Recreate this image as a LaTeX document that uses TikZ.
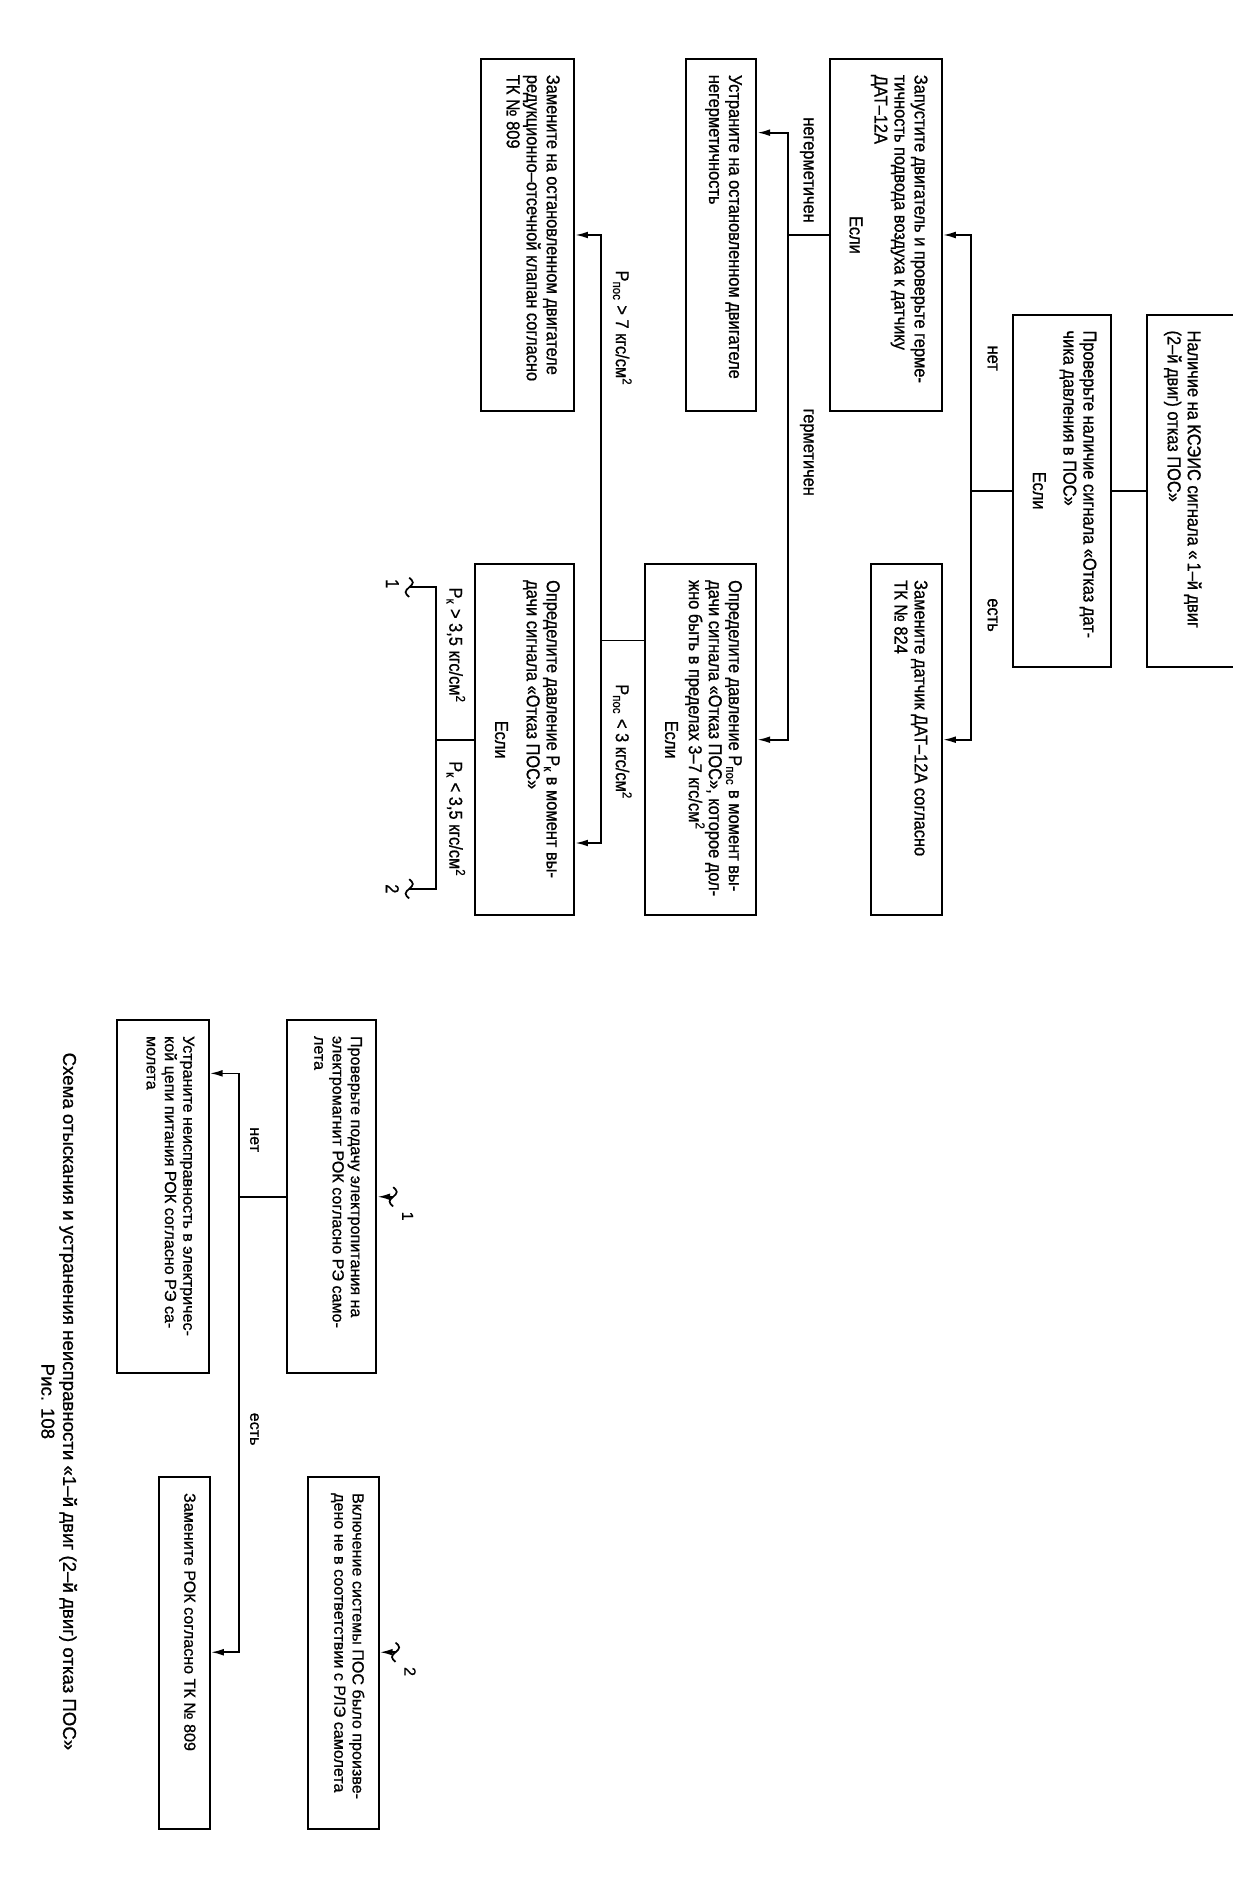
\documentclass[tikz,border=0pt]{standalone}
\usepackage{fontspec}
\setmainfont{Liberation Sans}[FakeBold=0.8]
\newfontfamily\uzkij{Liberation Sans}[FakeStretch=0.88,FakeBold=0.8]
\usetikzlibrary{arrows.meta,calc}
\newlength\ed
\setlength\ed{0.025cm}
\newcommand\perv{\uzkij\fontsize{11}{11.8}\selectfont}
\newcommand\vtor{\fontsize{9.5}{10.8}\selectfont}
\newcommand\blok[3]{\parbox[c][\dimexpr#2\ed-0.6cm\relax][t]{\dimexpr#1\ed-0.66cm\relax}{\raggedright#3}}
\newcommand\esli{\par\vfill{\centering Если\par}\vspace{3pt}}
\begin{document}
\begin{tikzpicture}[x=0.025cm,y=0.025cm,
  blok/.style={draw, line width=1.2pt, anchor=north west, inner xsep=0.33cm, inner ysep=0.3cm, font=\perv},
  blokv/.style={blok, font=\vtor},
  lin/.style={line width=1pt},
  pil/.style={lin, -{Latex[length=7.5pt,width=4pt]}},
  metka/.style={font=\perv, inner sep=1pt},
  volna/.pic={\draw[lin] (-8,0) sin (-4,3) cos (0,0) sin (4,-3) cos (8,0);}]
\begin{scope}[rotate=-90, transform shape]
\useasboundingbox (0,0) rectangle (1568,1022);
\node[blok] (a) at (260,1040) {\blok{292}{88}{\vspace*{0.77cm}Наличие на КСЭИС сигнала «\,1–й двиг\\(2–й двиг) отказ ПОС»}};
\node[blok] (b) at (260,922) {\blok{292}{81}{Проверьте наличие сигнала «Отказ дат-\\чика давления в ПОС»\esli}};
\node[blok] (c) at (48,782) {\blok{292}{93}{Запустите двигатель и проверьте герме-\\тичность подвода воздуха к датчику\\ДАТ–12А\esli}};
\node[blok] (d) at (467,782) {\blok{291}{59}{Замените датчик ДАТ–12А согласно\\ТК № 824}};
\node[blok] (e) at (48,628) {\blok{292}{58}{Устраните на остановленном двигателе\\негерметичность}};
\node[blok] (f) at (467,628) {\blok{291}{92}{Определите давление P\textsubscript{пос} в момент вы-\\дачи сигнала «Отказ ПОС», которое дол-\\жно быть в пределах 3–7 кгс/см\textsuperscript{2}\esli}};
\node[blok] (g) at (48,477) {\blok{292}{77}{Замените на остановленном двигателе\\редукционно–отсечной клапан согласно\\ТК № 809}};
\node[blok] (h) at (467,477) {\blok{291}{82}{Определите давление P\textsubscript{к} в момент вы-\\дачи сигнала «Отказ ПОС»\esli}};
\node[blokv] (i) at (845,313) {\blok{293}{74}{Проверьте подачу электропитания на\\электромагнит РОК согласно РЭ само-\\лета}};
\node[blokv] (j) at (845,174) {\blok{293}{76}{Устраните неисправность в электричес-\\кой цепи питания РОК согласно РЭ са-\\молета}};
\node[blokv] (k) at (1224,175) {\blok{292}{42}{Замените РОК согласно ТК № 809}};
\node[blokv] (l) at (1224,315) {\blok{292}{59}{Включение системы ПОС было произве-\\дено не в соответствии с РЛЭ самолета}};
\draw[lin] (a.south) -- (b.north);
\coordinate (s1) at ($(b.south)+(0,-34)$);
\draw[lin] (b.south) -- (s1);
\draw[pil] (s1) -| (c.north);
\draw[pil] (s1) -| (d.north);
\coordinate (s2) at ($(c.south)+(0,-34)$);
\draw[lin] (c.south) -- (s2);
\draw[pil] (s2) -| ($(e.north west)+(62,0)$);
\draw[pil] (s2) -| (f.north);
\coordinate (s3) at ($(f.south west)+(64,-36)$);
\draw[lin] ($(f.south west)+(64,0)$) -- (s3);
\draw[pil] (s3) -| (g.north);
\draw[pil] (s3) -| ($(h.north west)+(232,0)$);
\coordinate (s4) at ($(h.south)+(0,-32)$);
\coordinate (t1) at ($(h.south west)+(20,-54)$);
\coordinate (t2) at ($(h.south west)+(270,-54)$);
\draw[lin] (h.south) -- (s4);
\draw[lin] (s4) -| (t1);
\draw[lin] (s4) -| (t2);
\pic at (t1) {volna};
\pic at (t2) {volna};
\node[metka] (n1) at ($(t1)+(-3,-14)$) {1};
\node[metka] (n2) at ($(t2)+(0,-14)$) {2};
\coordinate (v1) at ($(i.north)+(0,13)$);
\coordinate (v2) at ($(l.north west)+(146,13)$);
\pic at (v1) {volna};
\pic at (v2) {volna};
\draw[pil] (v1) -- (i.north);
\draw[pil] (v2) -- ($(l.north west)+(146,0)$);
\node[metka, font=\vtor] (m1) at ($(v1)+(16,12)$) {1};
\node[metka, font=\vtor] (m2) at ($(v2)+(16,12)$) {2};
\coordinate (s5) at ($(i.south)+(0,-39)$);
\draw[lin] (i.south) -- (s5);
\draw[pil] (s5) -| ($(j.north west)+(45,0)$);
\draw[pil] (s5) -| ($(k.north west)+(146,0)$);
\node[metka] (net1) at (297,823) {нет};
\node[metka] (est1) at (510,823) {есть};
\node[metka] (neg) at (141,669) {негерметичен};
\node[metka] (ger) at (375,669) {герметичен};
\node[metka] (pb7) at (272,516) {P\textsubscript{пос} > 7 кгс/см\textsuperscript{2}};
\node[metka] (pm3) at (615,516) {P\textsubscript{пос} < 3 кгс/см\textsuperscript{2}};
\node[metka] (pkb) at (535,378) {P\textsubscript{к} > 3,5 кгс/см\textsuperscript{2}};
\node[metka] (pkm) at (679,378) {P\textsubscript{к} < 3,5 кгс/см\textsuperscript{2}};
\node[metka, font=\vtor] (net2) at (945,211) {нет};
\node[metka, font=\vtor] (est2) at (1185,211) {есть};
\node[font=\fontsize{11}{12.8}\selectfont, align=center] (podpis) at (1162,49) {Схема отыскания и устранения неисправности «1–й двиг (2–й двиг) отказ ПОС»\\Рис. 108};
\end{scope}
\end{tikzpicture}
\end{document}
